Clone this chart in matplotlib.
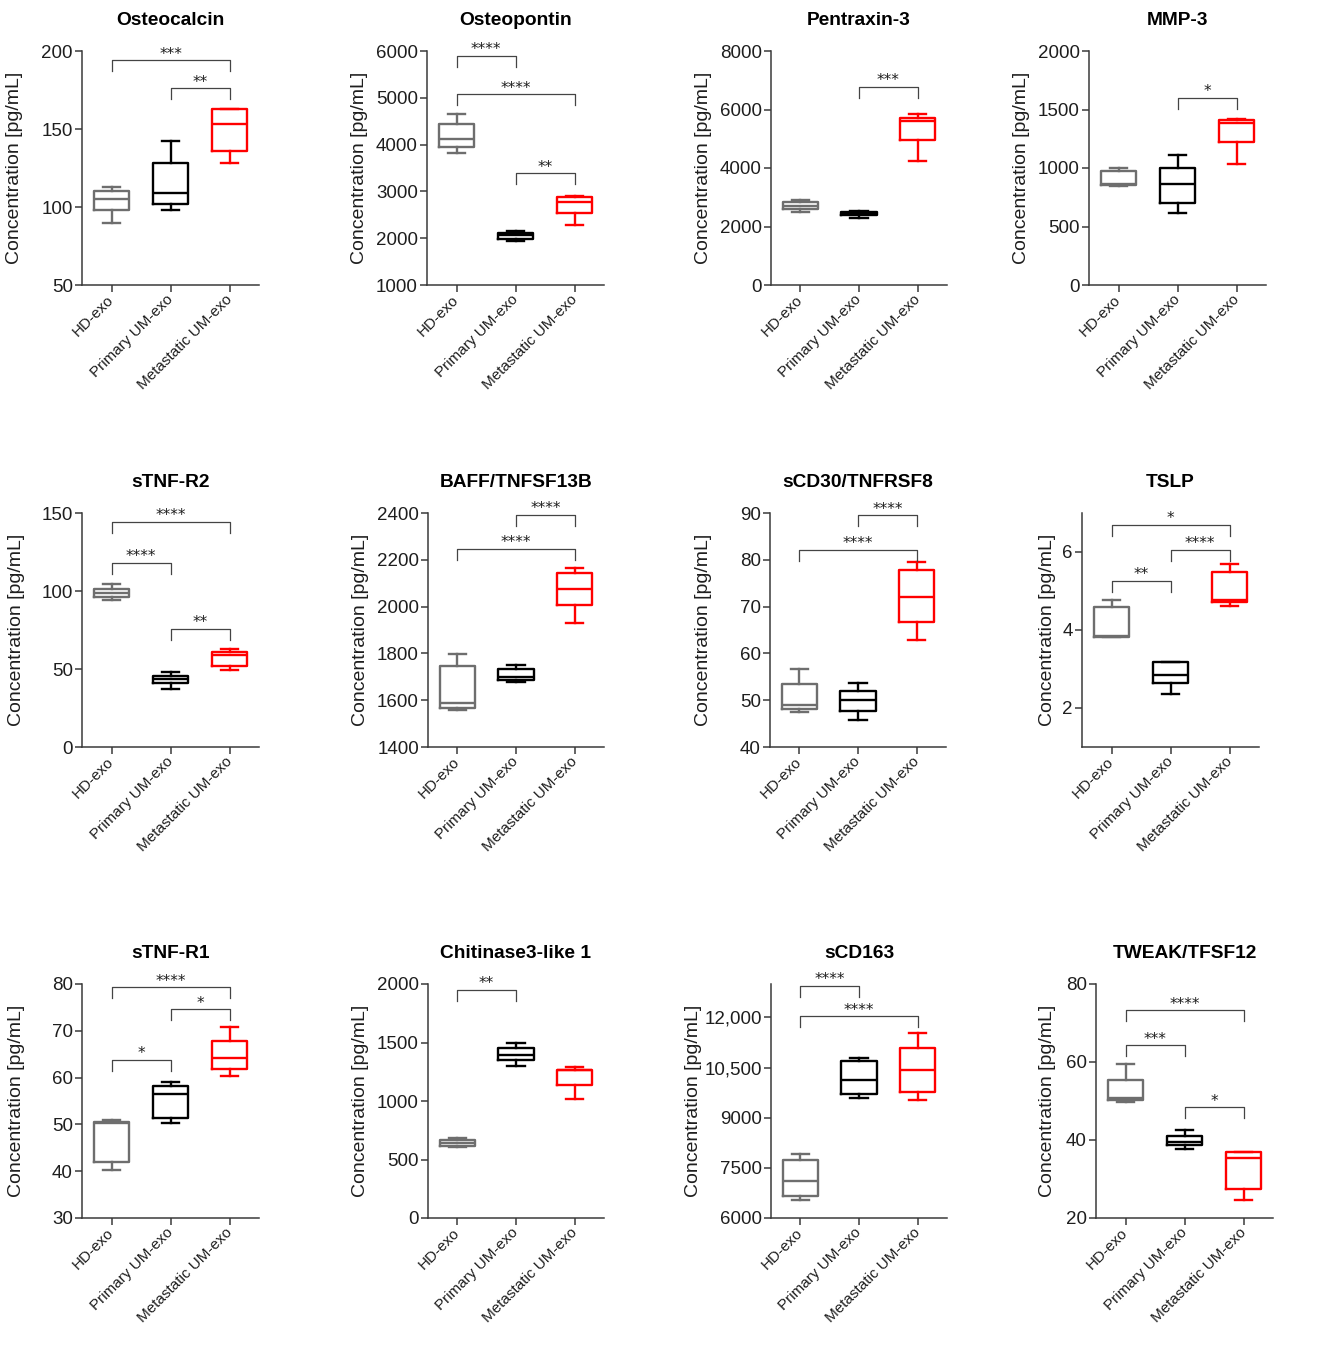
import matplotlib.pyplot as plt

plt.rcParams['font.family'] = ['Liberation Sans', 'DejaVu Sans']

W, H = 1317, 1346

GROUPS = ["HD-exo", "Primary UM-exo", "Metastatic UM-exo"]
COLORS = ["#6e6e6e", "#000000", "#ff0000"]

TITLES = ["Osteocalcin", "Osteopontin", "Pentraxin-3", "MMP-3",
          "sTNF-R2", "BAFF/TNFSF13B", "sCD30/TNFRSF8", "TSLP",
          "sTNF-R1", "Chitinase3-like 1", "sCD163", "TWEAK/TFSF12"]

# five-number summaries per group: whisker low, Q1, median, Q3, whisker high
osteocalcin = [[90, 98, 105, 110, 113], [98, 102, 109, 128, 142], [128, 136, 153, 163, 163]]
osteopontin = [[3820, 3940, 4125, 4450, 4650], [1940, 1990, 2060, 2120, 2150], [2280, 2530, 2780, 2880, 2905]]
pentraxin3 = [[2500, 2600, 2710, 2840, 2910], [2300, 2380, 2450, 2490, 2540], [4230, 4950, 5610, 5720, 5840]]
mmp3 = [[850, 855, 865, 978, 1003], [615, 703, 860, 1003, 1110], [1030, 1218, 1385, 1408, 1422]]
stnfr2 = [[94, 96.3, 98.5, 101.5, 104.4], [37.5, 41.3, 43.5, 45.8, 47.9], [49.4, 52.2, 59, 60.7, 63]]
baff = [[1557, 1567, 1590, 1746, 1797], [1679, 1688, 1700, 1733, 1749], [1930, 2005, 2075, 2144, 2165]]
scd30 = [[47.5, 48.1, 49, 53.4, 56.7], [45.8, 47.7, 50, 51.9, 53.7], [62.8, 66.8, 72.1, 77.9, 79.5]]
tslp = [[3.82, 3.83, 3.85, 4.58, 4.77], [2.36, 2.64, 2.85, 3.17, 3.17], [4.61, 4.71, 4.76, 5.48, 5.68]]
stnfr1 = [[40.3, 41.9, 50.4, 50.5, 51.0], [50.3, 51.3, 56.6, 58.1, 59.0], [60.4, 61.8, 64.1, 67.8, 70.9]]
chi3l1 = [[603, 617, 640, 663, 688], [1303, 1352, 1397, 1454, 1500], [1016, 1138, 1262, 1266, 1289]]
scd163 = [[6552, 6662, 7114, 7736, 7917], [9592, 9713, 10114, 10696, 10786], [9522, 9773, 10415, 11077, 11549]]
tweak = [[49.7, 50.3, 50.7, 55.5, 59.4], [37.7, 38.8, 39.6, 41.0, 42.5], [24.5, 27.4, 35.3, 36.8, 36.9]]

# significance brackets: (group a, group b, bracket height, stars)
osteocalcin_sig = [(0, 2, 194, "***"), (1, 2, 176, "**")]
osteopontin_sig = [(0, 1, 5894, "****"), (0, 2, 5071, "****"), (1, 2, 3390, "**")]
pentraxin3_sig = [(1, 2, 6776, "***")]
mmp3_sig = [(1, 2, 1601, "*")]
stnfr2_sig = [(0, 2, 144.2, "****"), (0, 1, 118.2, "****"), (1, 2, 75.6, "**")]
baff_sig = [(1, 2, 2391, "****"), (0, 2, 2246, "****")]
scd30_sig = [(1, 2, 89.5, "****"), (0, 2, 82.2, "****")]
tslp_sig = [(0, 2, 6.69, "*"), (1, 2, 6.06, "****"), (0, 1, 5.26, "**")]
stnfr1_sig = [(0, 2, 79.3, "****"), (1, 2, 74.6, "*"), (0, 1, 63.8, "*")]
chi3l1_sig = [(0, 1, 1949, "**")]
scd163_sig = [(0, 1, 12953, "****"), (0, 2, 12030, "****")]
tweak_sig = [(0, 2, 73.3, "****"), (0, 1, 64.3, "***"), (1, 2, 48.4, "*")]

YLIMS = [(50, 200), (1000, 6000), (0, 8000), (0, 2000),
         (0, 150), (1400, 2400), (40, 90), (1, 7),
         (30, 80), (0, 2000), (6000, 13000), (20, 80)]
YTICKS = [[50, 100, 150, 200], [1000, 2000, 3000, 4000, 5000, 6000],
          [0, 2000, 4000, 6000, 8000], [0, 500, 1000, 1500, 2000],
          [0, 50, 100, 150], [1400, 1600, 1800, 2000, 2200, 2400],
          [40, 50, 60, 70, 80, 90], [2, 4, 6],
          [30, 40, 50, 60, 70, 80], [0, 500, 1000, 1500, 2000],
          [6000, 7500, 9000, 10500, 12000], [20, 40, 60, 80]]
SCD163_LABELS = ["6000", "7500", "9000", "10,500", "12,000"]

data = [osteocalcin, osteopontin, pentraxin3, mmp3, stnfr2, baff,
        scd30, tslp, stnfr1, chi3l1, scd163, tweak]
sigs = [osteocalcin_sig, osteopontin_sig, pentraxin3_sig, mmp3_sig, stnfr2_sig, baff_sig,
        scd30_sig, tslp_sig, stnfr1_sig, chi3l1_sig, scd163_sig, tweak_sig]

# axes boxes in pixels: x0, x1, top, bottom
boxes = [(82, 259, 51, 285), (427, 604, 51, 285), (771, 947, 51, 285), (1089, 1266, 51, 285),
         (82, 259, 513, 747), (428, 604, 513, 747), (770, 946, 513, 747), (1082, 1259, 513, 747),
         (82, 259, 984, 1218), (428, 604, 984, 1218), (771, 947, 984, 1218), (1096, 1273, 984, 1218)]
ylab_off = [67, 67, 68, 67, 65, 68, 67, 35, 65, 68, 77, 49]

fig = plt.figure(figsize=(W / 100, H / 100), dpi=100)
spine_col = "#3a3a3a"
text_col = "#1e1e1e"

for k in range(12):
    x0, x1, top, bot = boxes[k]
    ax = fig.add_axes([x0 / W, 1 - bot / H, (x1 - x0) / W, (bot - top) / H])
    stats = [dict(whislo=s[0], q1=s[1], med=s[2], q3=s[3], whishi=s[4], fliers=[])
             for s in data[k]]
    art = ax.bxp(stats, positions=[0, 1, 2], widths=0.6, capwidths=0.3,
                 showfliers=False, patch_artist=False)
    for i, c in enumerate(COLORS):
        art['boxes'][i].set(color=c, linewidth=1.7)
        art['medians'][i].set(color=c, linewidth=1.7)
        for ln in art['whiskers'][2 * i:2 * i + 2] + art['caps'][2 * i:2 * i + 2]:
            ln.set(color=c, linewidth=1.7)

    ymin, ymax = YLIMS[k]
    ax.set_xlim(-0.5, 2.5)
    ax.set_ylim(ymin, ymax)
    ax.set_yticks(YTICKS[k])
    if k == 10:
        ax.set_yticklabels(SCD163_LABELS)
    else:
        ax.set_yticklabels([str(v) for v in YTICKS[k]])
    ax.set_xticks([0, 1, 2])
    ax.set_xticklabels(GROUPS, rotation=45, ha='right', va='center',
                       rotation_mode='anchor', fontsize=11)

    for sp in ['top', 'right']:
        ax.spines[sp].set_visible(False)
    for sp in ['left', 'bottom']:
        ax.spines[sp].set_color(spine_col)
        ax.spines[sp].set_linewidth(1.1)
    ax.tick_params(axis='y', length=5, width=1.1, color=spine_col, labelsize=13.5,
                   pad=1.5, labelcolor=text_col)
    ax.tick_params(axis='x', length=5, width=1.1, color=spine_col, pad=4,
                   labelcolor=text_col)

    ax.set_title(TITLES[k], fontsize=13.8, fontweight='bold', pad=19)
    ax.set_ylabel("Concentration [pg/mL]", fontsize=14, va='center', color=text_col)
    ax.yaxis.set_label_coords(-ylab_off[k] / (x1 - x0), 0.5)

    drop = 11 / (bot - top) * (ymax - ymin)
    for a, b, yb, stars in sigs[k]:
        ax.plot([a, a, b, b], [yb - drop, yb, yb, yb - drop], color='#444444',
                linewidth=0.9, clip_on=False)
        ax.annotate(stars, xy=((a + b) / 2, yb), xytext=(0, -1),
                    textcoords='offset points', ha='center', va='bottom',
                    fontsize=11, family='DejaVu Sans', color=text_col)

fig.savefig("out.png", dpi=100)
